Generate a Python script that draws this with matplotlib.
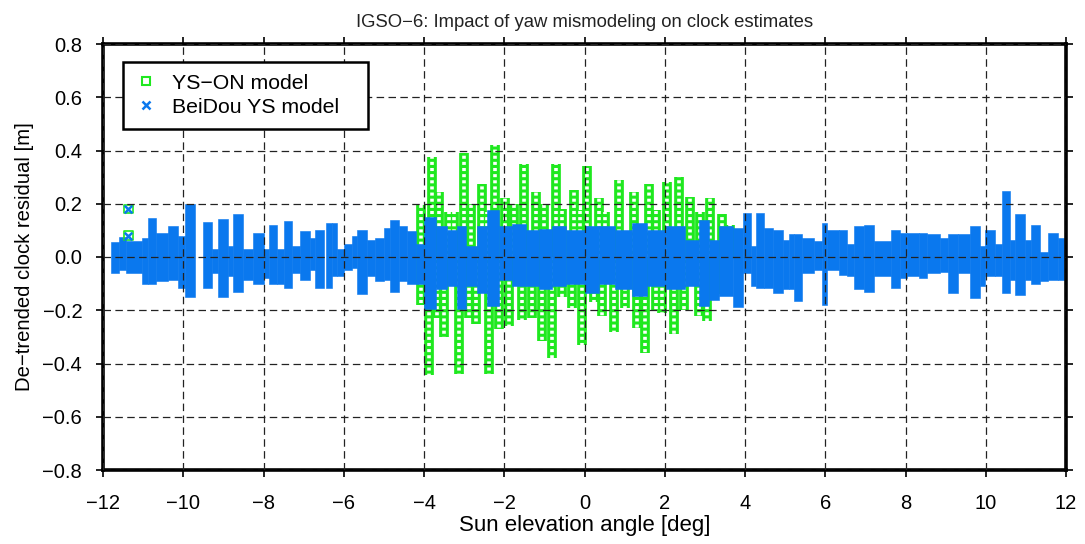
import numpy as np
import matplotlib.pyplot as plt

plt.rcParams.update({
    "font.family": ["Liberation Sans", "DejaVu Sans"],
    "font.size": 14,
})

# BeiDou YS model: residual envelope, run left edge [deg] with upper/lower value [m]
blue_x = [-11.80, -11.60, -11.42, -11.04, -10.875, -10.67, -10.375, -10.125, -9.96, -9.71,
          -9.50, -9.29, -9.125, -8.875, -8.75, -8.50, -8.25, -8.00, -7.875, -7.67,
          -7.50, -7.29, -7.08, -6.83, -6.71, -6.50, -6.45, -6.30, -6.17, -6.00,
          -5.79, -5.67, -5.42, -5.21, -5.00, -4.85, -4.625, -4.42, -4.21, -4.00,
          -3.71, -3.42, -3.17, -2.96, -2.67, -2.42, -2.13, -1.80, -1.47, -1.14,
          -0.80, -0.47, 0.00, 0.36, 0.77, 1.19, 1.56, 2.02, 2.51, 2.85,
          3.10, 3.34, 3.69, 3.94, 4.15, 4.27, 4.48, 4.69, 4.94, 5.10,
          5.23, 5.43, 5.72, 5.93, 6.05, 6.34, 6.55, 6.72, 6.96, 7.21,
          7.63, 7.87, 8.04, 8.33, 8.54, 8.87, 9.07, 9.32, 9.61, 9.86,
          9.98, 10.23, 10.40, 10.60, 10.73, 10.98, 11.14, 11.35, 11.56, 11.80,
          11.96]
blue_hi = [0.055, 0.075, 0.06, 0.07, 0.145, 0.09, 0.115, 0.08, 0.20, np.nan,
           0.13, 0.03, 0.142, 0.04, 0.16, 0.03, 0.09, 0.03, 0.12, 0.03,
           0.134, 0.04, 0.096, 0.07, 0.10, np.nan, 0.128, 0.128, 0.03, 0.05,
           0.08, 0.10, 0.065, 0.07, 0.11, 0.14, 0.115, 0.096, 0.05, 0.15,
           0.115, 0.10, 0.115, 0.04, 0.115, 0.176, 0.115, 0.125, 0.10, 0.107,
           0.115, 0.10, 0.115, 0.115, 0.10, 0.127, 0.10, 0.115, 0.065, 0.14,
           0.065, 0.115, 0.11, 0.166, 0.04, 0.166, 0.11, 0.10, 0.065, 0.085,
           0.085, 0.07, 0.06, 0.128, 0.10, 0.10, 0.05, 0.116, 0.122, 0.06,
           0.10, 0.09, 0.09, 0.09, 0.085, 0.07, 0.085, 0.085, 0.116, 0.04,
           0.10, 0.05, 0.248, 0.065, 0.16, 0.065, 0.122, 0.02, 0.09, 0.07]
blue_lo = [-0.06, -0.05, -0.06, -0.10, -0.10, -0.09, -0.085, -0.115, -0.15, np.nan,
           -0.115, -0.06, -0.15, -0.07, -0.13, -0.085, -0.10, -0.08, -0.10, -0.10,
           -0.116, -0.06, -0.085, -0.05, -0.116, np.nan, -0.116, -0.07, -0.07, -0.05,
           -0.04, -0.14, -0.07, -0.09, -0.085, -0.13, -0.09, -0.10, -0.10, -0.196,
           -0.12, -0.11, -0.196, -0.11, -0.135, -0.185, -0.085, -0.11, -0.11, -0.12,
           -0.11, -0.10, -0.135, -0.10, -0.12, -0.147, -0.11, -0.12, -0.11, -0.185,
           -0.16, -0.147, -0.186, -0.06, -0.11, -0.117, -0.117, -0.136, -0.12, -0.12,
           -0.167, -0.06, -0.05, -0.18, -0.05, -0.067, -0.07, -0.12, -0.13, -0.07,
           -0.117, -0.08, -0.07, -0.08, -0.06, -0.055, -0.136, -0.06, -0.155, -0.11,
           -0.07, -0.07, -0.136, -0.085, -0.142, -0.085, -0.10, -0.09, -0.085, -0.085]

# YS-ON model: column peaks above / below zero near the noon turn
green_up_x = [-4.08, -3.79, -3.63, -3.38, -3.25, -3.00, -2.84, -2.55, -2.42, -2.22,
              -1.97, -1.76, -1.51, -1.22, -1.01, -0.72, -0.56, -0.27, -0.10, 0.07,
              0.36, 0.52, 0.85, 1.23, 1.60, 1.77, 2.06, 2.35, 2.64, 2.89,
              3.14, 3.43, 3.63]
green_up = [0.195, 0.375, 0.245, 0.17, 0.17, 0.39, 0.20, 0.275, 0.17, 0.42,
            0.22, 0.20, 0.35, 0.245, 0.20, 0.35, 0.18, 0.25, 0.175, 0.34,
            0.22, 0.17, 0.29, 0.245, 0.275, 0.175, 0.28, 0.30, 0.225, 0.17,
            0.22, 0.16, 0.12]
green_dn_x = [-4.08, -3.88, -3.67, -3.50, -3.13, -2.88, -2.71, -2.38, -2.13, -1.88,
              -1.55, -1.30, -1.05, -0.80, -0.56, -0.31, -0.06, 0.23, 0.44, 0.73,
              1.02, 1.31, 1.52, 1.77, 1.93, 2.22, 2.47, 2.85, 3.05, 3.30,
              3.51]
green_dn = [-0.18, -0.445, -0.23, -0.30, -0.44, -0.23, -0.25, -0.44, -0.27, -0.26,
            -0.235, -0.23, -0.315, -0.38, -0.15, -0.19, -0.33, -0.17, -0.22, -0.28,
            -0.19, -0.265, -0.36, -0.20, -0.21, -0.29, -0.20, -0.22, -0.24, -0.14,
            -0.12]

# isolated epochs (both models)
out_x = [-11.37, -11.37]
out_y = [0.18, 0.08]

GREEN = "#1fe81f"
BLUE = "#0a78ee"

fig = plt.figure(figsize=(10.85, 5.44), dpi=100)
ax = fig.add_axes([103 / 1085, 1 - 470 / 544, 963 / 1085, 426 / 544])

# green columns of stacked open squares
for xs, ys in [(green_up_x, green_up), (green_dn_x, green_dn)]:
    ax.vlines(xs, 0, ys, color=GREEN, lw=7, zorder=1)
    ax.vlines(xs, 0, ys, color="white", lw=2.6,
              linestyles=(0, (0.85, 0.85)), zorder=1.1)

# blue band
edges = np.array(blue_x)
hi = np.array(blue_hi)
lo = np.array(blue_lo)
ax.bar(edges[:-1], hi - lo, width=np.diff(edges), bottom=lo, align="edge",
       color=BLUE, edgecolor=BLUE, linewidth=0.4, zorder=1.5)

ax.scatter(out_x, out_y, marker="s", s=40, facecolor="none", edgecolor=GREEN,
           linewidth=1.2, zorder=1.6)
ax.scatter(out_x, out_y, marker="x", s=30, color=BLUE, linewidth=1.8, zorder=1.7)

ax.plot([], [], ls="none", marker="s", ms=6, mfc="white", mec=GREEN, mew=1.5,
        label="YS\u2212ON model")
ax.plot([], [], ls="none", marker="x", ms=6, color=BLUE, mew=1.8,
        label="BeiDou YS model")

ax.set_xlim(-12, 12)
ax.set_ylim(-0.8, 0.8)
ax.set_xticks(np.arange(-12, 13, 2))
ax.set_yticks(np.round(np.arange(-0.8, 0.81, 0.2), 1))
ax.yaxis.set_major_formatter(
    plt.FuncFormatter(lambda v, p: f"{v:.1f}".replace("-", "\u2212") if abs(v) > 1e-9 else "0.0"))
ax.tick_params(direction="out", length=5, width=1.2, top=True, right=True,
               labelsize=14.5)
ax.tick_params(axis="x", pad=12)
ax.tick_params(axis="y", pad=10)
ax.grid(True, color="#222222", linestyle=(0, (6, 3.5)), linewidth=0.9)
ax.set_axisbelow(False)
for s in ax.spines.values():
    s.set_linewidth(2.6)

ax.set_title("IGSO\u22126: Impact of yaw mismodeling on clock estimates",
             fontsize=13.3, pad=12, color="#222222")
ax.set_xlabel("Sun elevation angle [deg]", fontsize=16, labelpad=2)
ax.set_ylabel("De\u2212trended clock residual [m]", fontsize=14.6, labelpad=6)

leg = ax.legend(loc="upper left", bbox_to_anchor=(0.021, 0.796, 0.254, 0.162),
                mode="expand", borderaxespad=0,
                fancybox=False, framealpha=1, edgecolor="black", fontsize=15.3,
                handlelength=1.0, handletextpad=0.75, borderpad=0.55,
                labelspacing=0.25)
leg.get_frame().set_linewidth(1.8)
leg.set_zorder(5)

fig.savefig("out.png", dpi=100)
